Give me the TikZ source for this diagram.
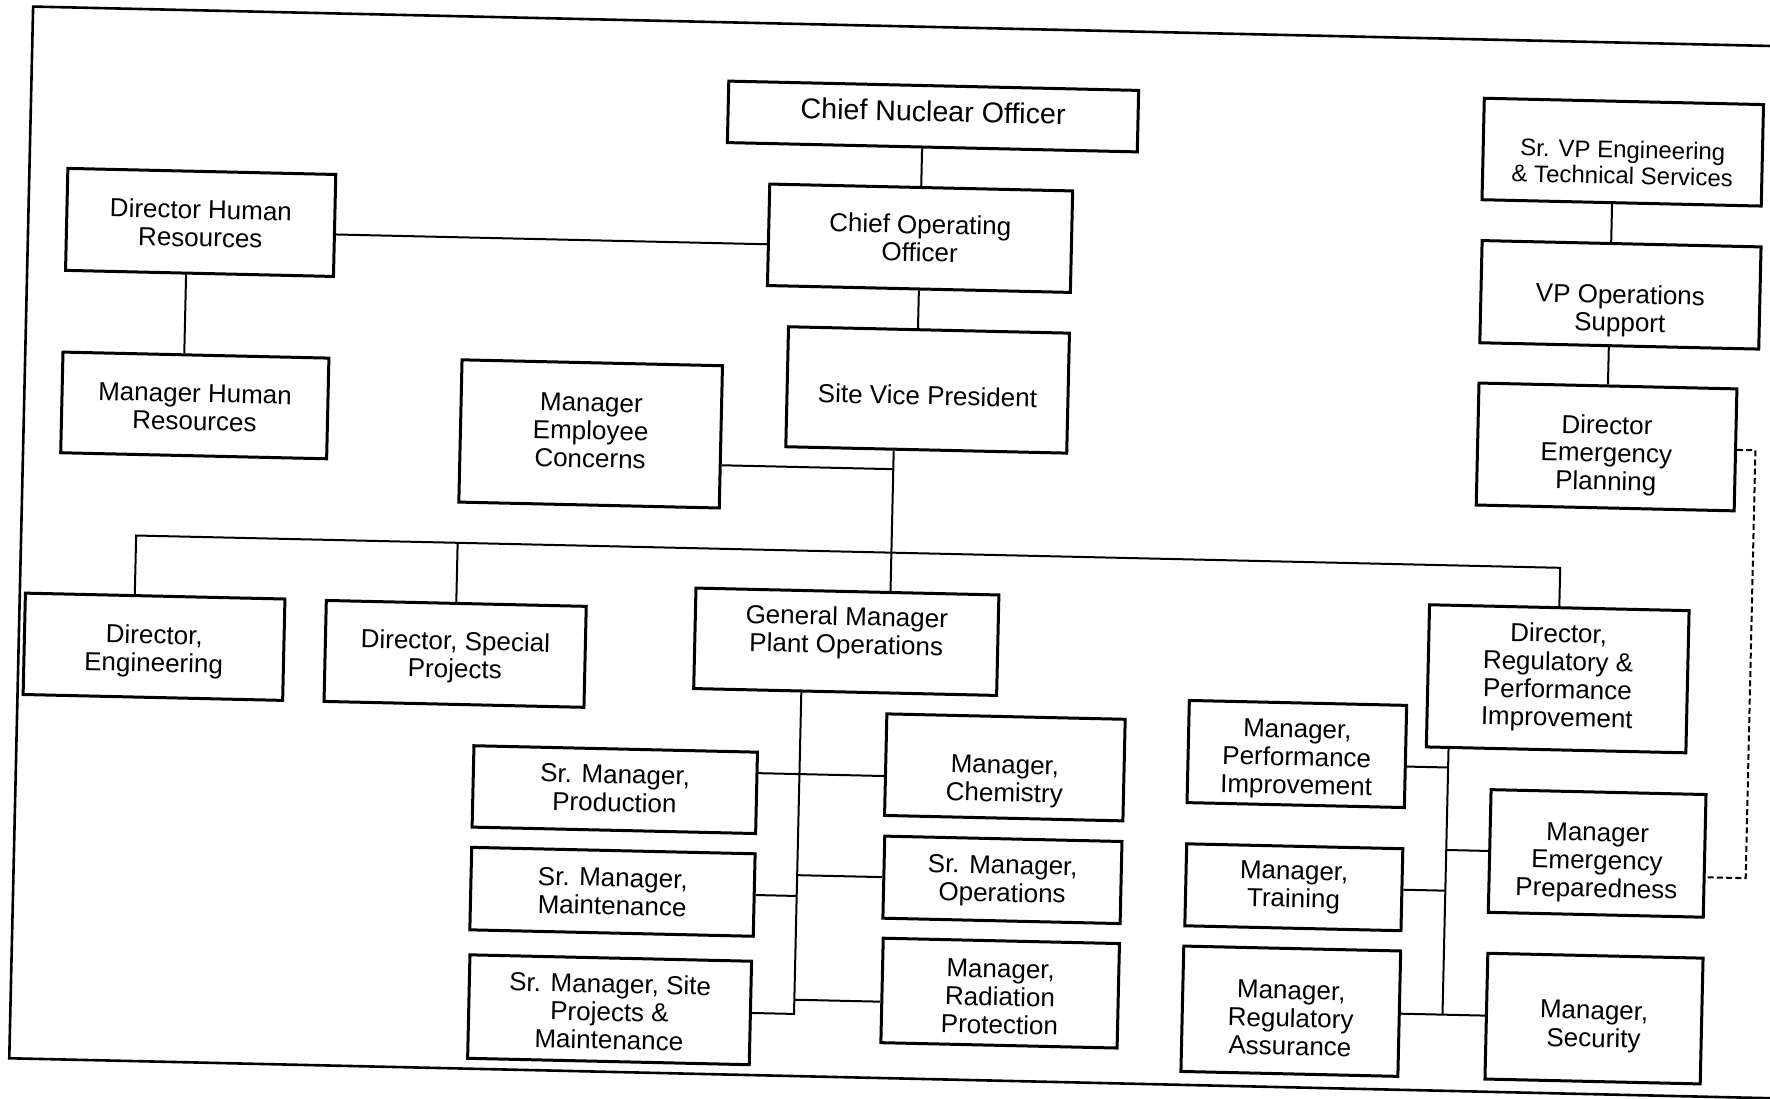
\documentclass[tikz,border=0pt]{standalone}
\usepackage{fontspec}
\setmainfont{Liberation Sans}
\usetikzlibrary{calc}
\begin{document}
\begin{tikzpicture}[x=0.5pt,y=-0.5pt,
  box/.style={draw,line width=1.5pt,fill=white,inner sep=1pt},
  lbl/.style={align=center,inner sep=0pt,font=\fontsize{13}{14}\selectfont},
  conn/.style={line width=1pt},
  dashconn/.style={line width=1pt,dash pattern=on 3pt off 1.6pt},
  frame/.style={line width=1.3pt}]
\fill[white] (0,0) rectangle (1770,1098);
\useasboundingbox (0,0) rectangle (1770,1098);
\clip (0,0) rectangle (1770,1098);
\begin{scope}[rotate around={-1.3:(885,549)},transform shape]
\draw[frame] (1800,26) -- (21,26) -- (21,1078) -- (1800,1078);
% top centre
\node[box,minimum width=205pt,minimum height=30.75pt,label={[lbl,font=\fontsize{14.3}{15.5}\selectfont,yshift=2.6pt]center:Chief Nuclear Officer}] (cno) at (923.2,115.5) {};
\node[box,minimum width=151.5pt,minimum height=50.75pt,label={[lbl]center:Chief Operating\\Officer}] (coo) at (913,237.5) {};
\node[box,minimum width=140.5pt,minimum height=60pt,label={[lbl,yshift=-2.8pt]center:Site Vice President}] (svp) at (924,389) {};
% left top
\node[box,minimum width=134pt,minimum height=51pt,label={[lbl,yshift=-0.5pt]center:Director Human\\Resources}] (dirhr) at (193.4,238) {};
\node[box,minimum width=133pt,minimum height=50.35pt,label={[lbl,yshift=-1pt]center:Manager Human\\Resources}] (mgrhr) at (191.7,421.1) {};
\node[box,minimum width=130.25pt,minimum height=71.15pt,label={[lbl,yshift=1.6pt]center:Manager\\Employee\\Concerns}] (mec) at (588.1,440.6) {};
% right top
\node[box,minimum width=139.65pt,minimum height=50.75pt,label={[lbl,font=\fontsize{12}{13}\selectfont,yshift=-5.2pt]center:Sr. VP Engineering\\\& Technical Services}] (srvp) at (1613.6,135.5) {};
\node[box,minimum width=139.5pt,minimum height=51.1pt,label={[lbl,yshift=-8pt]center:VP Operations\\Support}] (vpos) at (1614.5,278.2) {};
\node[box,minimum width=129pt,minimum height=61pt,label={[lbl,yshift=-4.2pt]center:Director\\Emergency\\Planning}] (dep) at (1604.1,430.6) {};
% second level
\node[box,minimum width=129.8pt,minimum height=50.7pt,label={[lbl,yshift=-2.2pt]center:Director,\\Engineering}] (deng) at (156.4,663.3) {};
\node[box,minimum width=130pt,minimum height=50.5pt,label={[lbl,yshift=-1.7pt]center:Director, Special\\Projects}] (dsp) at (457.6,663.6) {};
\node[box,minimum width=151.5pt,minimum height=50.25pt,label={[lbl,yshift=4.5pt]center:General Manager\\Plant Operations}] (gm) at (848.4,642.6) {};
\node[box,minimum width=129.8pt,minimum height=71.1pt,label={[lbl,yshift=0.5pt]center:Director,\\Regulatory \&\\Performance\\Improvement}] (drpi) at (1560.5,663.5) {};
% plant operations
\node[box,minimum width=141.8pt,minimum height=40.7pt,label={[lbl,yshift=0.5pt]center:Sr. Manager,\\Production}] (smp) at (620.3,795.7) {};
\node[box,minimum width=141.75pt,minimum height=41.25pt,label={[lbl]center:Sr. Manager,\\Maintenance}] (smm) at (620.3,897.9) {};
\node[box,minimum width=140.85pt,minimum height=51.75pt,label={[lbl,yshift=-1pt]center:Sr. Manager, Site\\Projects \&\\Maintenance}] (smsp) at (620.1,1015.9) {};
\node[box,minimum width=119.2pt,minimum height=50.8pt,label={[lbl,yshift=-7pt]center:Manager,\\Chemistry}] (chem) at (1009.8,764.6) {};
\node[box,minimum width=118.65pt,minimum height=41.05pt,label={[lbl,yshift=-0.8pt]center:Sr. Manager,\\Operations}] (smo) at (1009.9,877.1) {};
\node[box,minimum width=118.15pt,minimum height=52.25pt,label={[lbl,yshift=-2pt]center:Manager,\\Radiation\\Protection}] (rp) at (1010.2,990.4) {};
% regulatory
\node[box,minimum width=108.7pt,minimum height=51.1pt,label={[lbl,yshift=-2.8pt]center:Manager,\\Performance\\Improvement}] (mpi) at (1301.4,744.6) {};
\node[box,minimum width=108.1pt,minimum height=41pt,label={[lbl]center:Manager,\\Training}] (mtr) at (1301.4,877.9) {};
\node[box,minimum width=108.5pt,minimum height=62.7pt,label={[lbl,yshift=-3.6pt]center:Manager,\\Regulatory\\Assurance}] (ra) at (1301.2,1001.9) {};
\node[box,minimum width=107.5pt,minimum height=61.35pt,label={[lbl,yshift=-4.8pt]center:Manager\\Emergency\\Preparedness}] (mep) at (1603.9,837.2) {};
\node[box,minimum width=107.65pt,minimum height=62.9pt,label={[lbl,yshift=-4.2pt]center:Manager,\\Security}] (sec) at (1604.5,1002.4) {};
% helper coordinates
\coordinate (hrv) at ($(dirhr.south)+(-13.4,0)$);
\coordinate (hrc) at ($(dirhr.east)+(0,9)$);
\coordinate (trk) at ($(svp.south)+(-32.5,0)$);
\coordinate (mecc) at ($(mec.east)+(0,28.4)$);
\coordinate (bus) at (891.5,552.5);
\coordinate (dengc) at ($(deng.north)+(-20.4,0)$);
\coordinate (gmv) at ($(gm.south)+(-43.8,0)$);
\coordinate (pc) at ($(smp.east)+(0,-19.7)$);
\coordinate (rpc) at ($(rp.west)+(0,11.3)$);
\coordinate (dv) at ($(drpi.south)+(-107.5,0)$);
\coordinate (mpic) at ($(mpi.east)+(0,10.1)$);
\coordinate (dd) at ($(mep.east)+(0,21.4)$);
\coordinate (dashx) at (1753,600);
% connectors
\draw[conn] (coo.north) -- (coo.north |- cno.south);
\draw[conn] (coo.south) -- (coo.south |- svp.north);
\draw[conn] (hrc) -- (hrc -| coo.west);
\draw[conn] (hrv) -- (hrv |- mgrhr.north);
\draw[conn] (trk) -- (trk |- gm.north);
\draw[conn] (mecc) -- (mecc -| trk);
\draw[conn] (dengc) -- (dengc |- bus) -- (drpi.north |- bus) -- (drpi.north);
\draw[conn] (dsp.north) -- (dsp.north |- bus);
\draw[conn] (gmv) -- (gmv |- smsp.east) -- (smsp.east);
\draw[conn] (pc) -- (pc -| chem.west);
\draw[conn] (smm.east) -- (smm.east -| gmv);
\draw[conn] (gmv |- smo.west) -- (smo.west);
\draw[conn] (rpc -| gmv) -- (rpc);
\draw[conn] (dv) -- (dv |- ra.east);
\draw[conn] (mpic) -- (mpic -| dv);
\draw[conn] (dv |- mep.west) -- (mep.west);
\draw[conn] (mtr.east) -- (mtr.east -| dv);
\draw[conn] (ra.east) -- (ra.east -| sec.west);
\draw[conn] (srvp.south -| dep.north) -- (vpos.north -| dep.north);
\draw[conn] (vpos.south -| dep.north) -- (dep.north);
\draw[dashconn] (dep.east) -- (dep.east -| dashx) -- (dd -| dashx) -- (dd);
\end{scope}
\end{tikzpicture}
\end{document}
